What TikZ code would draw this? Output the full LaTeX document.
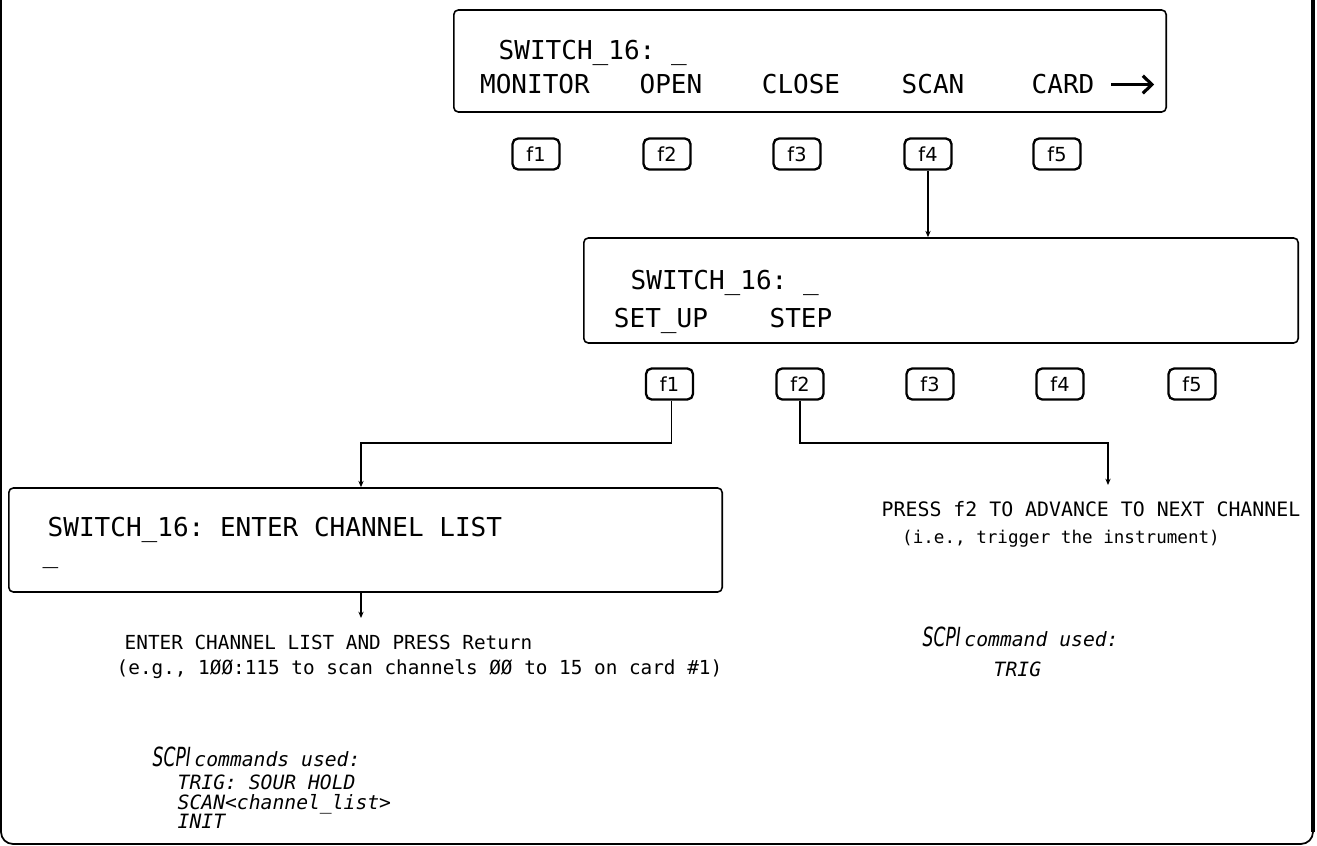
\documentclass[tikz,border=0pt]{standalone}
\usepackage{fontspec}
\setmainfont{DejaVu Sans}
\setmonofont{DejaVu Sans Mono}
\usepackage{graphicx}
\usetikzlibrary{arrows.meta}
\begin{document}
\begin{tikzpicture}[x=0.01cm,y=-0.01cm,
  disp/.style={draw, line width=0.45pt, rounded corners=1.3pt, inner sep=0pt},
  fkey/.style={draw, line width=0.65pt, rounded corners=1.6pt, minimum width=0.47cm, minimum height=0.31cm, inner sep=0pt, font=\fontsize{5.5}{6}\selectfont},
  lcd/.style={font=\fontsize{7.4}{8}\selectfont\ttfamily, inner sep=0pt},
  note/.style={font=\fontsize{5.5}{6}\selectfont\ttfamily, inner sep=0pt, anchor=base},
  cmd/.style={font=\fontsize{5.6}{6}\selectfont\ttfamily\itshape, inner sep=0pt, anchor=base west},
  conn/.style={line width=0.3pt, -{Stealth[length=1.8pt,width=1.5pt]}},
  glypharrow/.style={line width=0.9pt, -{Straight Barb[length=2.6pt,width=5pt,line width=0.9pt]}}
]
\useasboundingbox (0,0) rectangle (1317,846);
% outer frame
\draw[line width=0.5pt, rounded corners=0.12cm] (1,0) -- (1,844) -- (1313,844) -- (1313,0);
\draw[line width=0.9pt] (1313,0) -- (1313,832);

% ---------- display 1 ----------
\node[disp, minimum width=7.12cm, minimum height=1.02cm] (d1) at (810,61) {};
\node[lcd, anchor=base west] (d1t) at (498,59.5) {SWITCH\_16: \_};
\node[lcd, anchor=base] (mon) at (535,94) {MONITOR};
\node[lcd, anchor=base] (opn) at (671,94) {OPEN};
\node[lcd, anchor=base] (cls) at (801,94) {CLOSE};
\node[lcd, anchor=base] (scn) at (933,94) {SCAN};
\node[lcd, anchor=base] (crd) at (1063,94) {CARD};
\draw[glypharrow] ([xshift=4.6pt]crd.east) -- ++(43,0);

\node[fkey] (ka) at (536,154) {f1};
\node[fkey] (kb) at (667,154) {f2};
\node[fkey] (kc) at (797,154) {f3};
\node[fkey] (kd) at (928,154) {f4};
\node[fkey] (ke) at (1057,154) {f5};

% ---------- display 2 ----------
\node[disp, minimum width=7.14cm, minimum height=1.05cm] (d2) at (941,290.5) {};
\node[lcd, anchor=base west] (d2t) at (630,289.5) {SWITCH\_16: \_};
\node[lcd, anchor=base] (setup) at (661,327.5) {SET\_UP};
\node[lcd, anchor=base] (stp) at (801,327.5) {STEP};

\node[fkey] (kf) at (669.5,384) {f1};
\node[fkey] (kg) at (800,384) {f2};
\node[fkey] (kh) at (930,384) {f3};
\node[fkey] (ki) at (1060,384) {f4};
\node[fkey] (kj) at (1192,384) {f5};

% ---------- display 3 ----------
\node[disp, minimum width=7.13cm, minimum height=1.04cm] (d3) at (365.5,540) {};
\node[lcd, anchor=base west] (d3t) at (47,536.5) {SWITCH\_16: ENTER CHANNEL LIST};
\node[lcd, anchor=base west] (d3c) at (42,563) {\_};

% ---------- notes ----------
\node[note] (n1a) at (328.5,650) {ENTER CHANNEL LIST AND PRESS Return};
\node[note] (n1b) at (419.5,675) {(e.g., 1ØØ:115 to scan channels ØØ to 15 on card \#1)};
\node[note, font=\fontsize{5.65}{6}\selectfont\ttfamily] (n2a) at (1091,517) {PRESS f2 TO ADVANCE TO NEXT CHANNEL};
\node[note, font=\fontsize{5.0}{6}\selectfont\ttfamily] (n2b) at (1061,544) {(i.e., trigger the instrument)};

\node[cmd] (s2) at (922,647) {{\rmfamily\fontsize{7.5}{8}\selectfont\scalebox{0.65}[1]{SCPI}}\hspace{1pt}command used:};
\node[cmd] (s2a) at (993,677) {TRIG};

\node[cmd] (s1) at (152,767) {{\rmfamily\fontsize{7.5}{8}\selectfont\scalebox{0.65}[1]{SCPI}}\hspace{1pt}commands used:};
\node[cmd] (s1a) at (177,790) {TRIG: SOUR HOLD};
\node[cmd] (s1b) at (177,810) {SCAN<channel\_list>};
\node[cmd] (s1c) at (177,829) {INIT};

% ---------- connectors ----------
\draw[conn] (kd.south) -- (kd.south |- d2.north);
\coordinate (c1) at (361,443);
\coordinate (c2) at (1108,443);
\coordinate (e1) at (361,618);
\coordinate (e2) at (1108,485);
\draw[conn] ([xshift=0.5pt]kf.south) |- (c1) -- (c1 |- d3.north);
\draw[conn] (kg.south) |- (c2) -- (e2);
\draw[conn] (c1 |- d3.south) -- (e1);
\end{tikzpicture}
\end{document}
